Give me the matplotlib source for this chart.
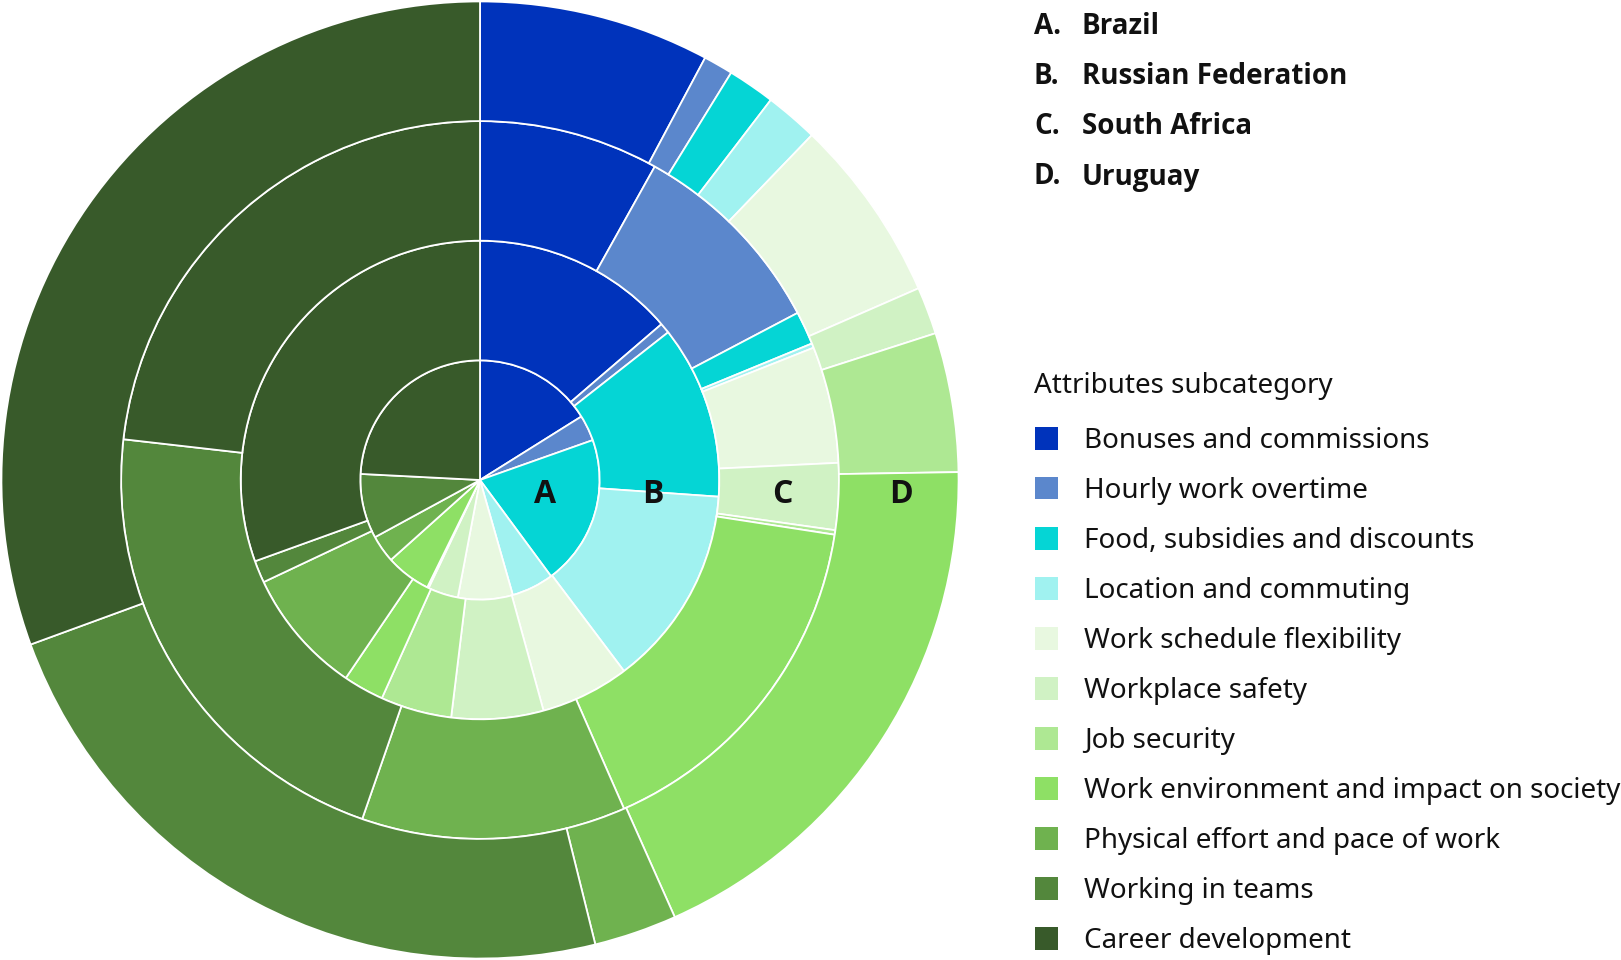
import matplotlib
matplotlib.use("Agg")
import matplotlib.pyplot as plt
from matplotlib.patches import Rectangle

plt.rcParams['font.family'] = ['Noto Sans', 'DejaVu Sans']
BOLD = ['Open Sans', 'DejaVu Sans']

# subcategories, clockwise from 12 o'clock
categories = ['Bonuses and commissions', 'Hourly work overtime',
              'Food, subsidies and discounts', 'Location and commuting',
              'Work schedule flexibility', 'Workplace safety', 'Job security',
              'Work environment and impact on society',
              'Physical effort and pace of work', 'Working in teams',
              'Career development']
colors = ['#0033bb', '#5b87cc', '#05d5d5', '#a0f2f0', '#e8f8e0', '#d0f2c4',
          '#aee893', '#8ee065', '#6fb24f', '#53873c', '#385a2a']

# shares (%), inner ring A to outer ring D
brazil = [16.1, 3.5, 20.3, 5.7, 7.4, 4.1, 0.2, 6.1, 3.7, 8.75, 24.2]
russia = [13.7, 0.7, 11.7, 13.6, 6.0, 6.2, 4.8, 2.75, 8.5, 1.5, 30.5]
south_africa = [8.1, 9.2, 1.5, 0.2, 5.25, 3.0, 0.2, 16.0, 11.9, 21.5, 23.2]
uruguay = [7.8, 1.0, 1.6, 1.8, 6.25, 1.6, 4.7, 18.6, 2.8, 23.3, 30.6]

rings = [brazil, russia, south_africa, uruguay]
ring_letters = ['A', 'B', 'C', 'D']
countries = ['Brazil', 'Russian Federation', 'South Africa', 'Uruguay']
letter_x = [0.136, 0.362, 0.632, 0.88]  # where the ring letters sit

W, H = 1621, 960
fig = plt.figure(figsize=(W / 100, H / 100), dpi=100)
ax = fig.add_axes([0, 0, 960 / W, 1])

width = 0.25
for i, vals in enumerate(rings):
    r = width * (i + 1)
    ax.pie(vals, radius=r, colors=colors, startangle=90, counterclock=False,
           wedgeprops=dict(width=width, edgecolor='white', linewidth=1.3))
    ax.text(letter_x[i], -0.03, ring_letters[i], ha='center', va='center',
            fontsize=23, fontweight='bold', family=BOLD, color='#111111')

ax.set_xlim(-1.003, 1.003)
ax.set_ylim(-1.003, 1.003)
ax.set_aspect('equal')
ax.axis('off')


def fx(px):
    return px / W


def fy(py):
    return 1 - py / H


# country key
for i, (letter, name) in enumerate(zip(ring_letters, countries)):
    y = 27 + 50 * i
    fig.text(fx(1034), fy(y), letter + '.', fontsize=20, fontweight='bold',
             family=BOLD, va='center', ha='left', color='#111111')
    fig.text(fx(1082), fy(y), name, fontsize=20, fontweight='bold',
             family=BOLD, va='center', ha='left', color='#111111')

# subcategory legend
fig.text(fx(1034), fy(386), 'Attributes subcategory', fontsize=20,
         va='center', ha='left', color='#111111')
for i, (cat, col) in enumerate(zip(categories, colors)):
    y = 438 + 50 * i
    fig.patches.append(Rectangle((fx(1035), fy(y + 11.5)), 23 / W, 23 / H,
                                 transform=fig.transFigure, facecolor=col,
                                 edgecolor='none'))
    fig.text(fx(1084), fy(y + 3), cat, fontsize=20, va='center', ha='left',
             color='#111111')

fig.savefig('out.png', dpi=100, facecolor='white')
